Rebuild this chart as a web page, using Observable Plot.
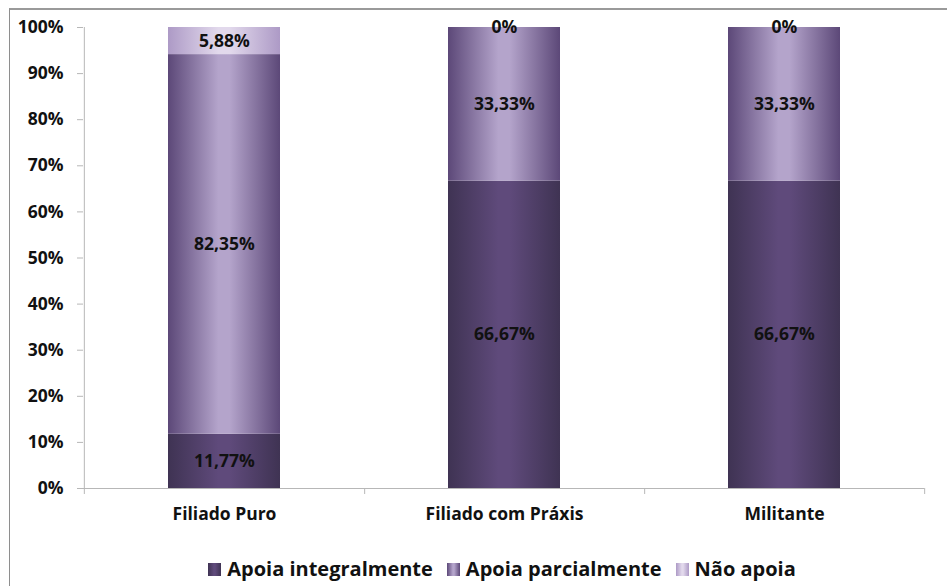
<!DOCTYPE html>
<html>
<head>
<meta charset="utf-8">
<script src="https://cdn.jsdelivr.net/npm/d3@7"></script>
<script src="https://cdn.jsdelivr.net/npm/@observablehq/plot@0.6"></script>
<style>
  html, body { margin: 0; padding: 0; background: #fff; }
  body { width: 947px; height: 586px; overflow: hidden; position: relative; font-family: "Open Sans", Lato, sans-serif; }
  #frame { position: absolute; left: 9px; top: 8px; width: 1000px; height: 1000px; border-left: 1px solid #8e8e8e; border-top: 2px solid #9a9a9a; box-sizing: border-box; }
  #chart { position: absolute; left: 0; top: 0; }
  #legend { position: absolute; left: 0; top: 555px; width: 1004px; text-align: center; font-weight: 700; font-size: 20px; color: #111; white-space: nowrap; }
  #legend span.item { margin: 0 7px; }
  #legend span.sw { display: inline-block; width: 13px; height: 13px; margin-right: 6px; vertical-align: 0px; }
</style>
</head>
<body>
<div id="frame"></div>
<div id="chart"></div>
<div id="legend"></div>
<script>
// ---- data ----
const categories = ["Filiado Puro", "Filiado com Práxis", "Militante"];
const series = ["Apoia integralmente", "Apoia parcialmente", "Não apoia"];
const apoiaIntegralmente = [11.77, 66.67, 66.67];
const apoiaParcialmente = [82.35, 33.33, 33.33];
const naoApoia = [5.88, 0, 0];
const yTicks = [0, 10, 20, 30, 40, 50, 60, 70, 80, 90, 100];

// gradient styles per series (edge, center)
const gradients = [
  {id: "g0", edge: "#3f3353", mid: "#5f4a7b"},
  {id: "g1", edge: "#5c4878", mid: "#b4a4cb"},
  {id: "g2", edge: "#ad9ac6", mid: "#e2d9ec"}
];

const seriesValues = [apoiaIntegralmente, apoiaParcialmente, naoApoia];
const data = [];
series.forEach((s, si) => {
  categories.forEach((c, ci) => {
    data.push({category: c, series: s, value: seriesValues[si][ci]});
  });
});

const fmt = v => v === 0 ? "0%" : v.toFixed(2).replace(".", ",") + "%";

const W = 947, H = 530;
const font = "'Open Sans', Lato, sans-serif";
const step = (W - 83 - 23) / 3;
const fs = 17.5;

const plot = Plot.plot({
  width: W,
  height: H,
  marginLeft: 83,
  marginRight: 23,
  marginTop: 27,
  marginBottom: 42,
  style: {fontFamily: font, fontSize: fs + "px", fontWeight: 700, color: "#111", background: "transparent"},
  x: {domain: categories, paddingInner: 0.6, paddingOuter: 0.3, label: null},
  y: {domain: [0, 100], label: null},
  color: {domain: series, range: gradients.map(g => `url(#${g.id})`)},
  marks: [
    Plot.barY(data, Plot.stackY({x: "category", y: "value", fill: "series", order: series})),
    Plot.text(data, Plot.stackY({x: "category", y: "value", z: "series", order: series, text: d => fmt(d.value), fill: "#111", fontSize: fs, fontWeight: 700})),
    // y axis line
    Plot.ruleX([0], {x: () => categories[0], dx: -step / 2, y1: -1.3, y2: 100, stroke: "#b7b7b7", strokeWidth: 1}),
    // x axis line
    Plot.ruleY([0], {stroke: "#b7b7b7", strokeWidth: 1, insetLeft: -6}),
    // category boundary ticks
    Plot.ruleX(categories, {x: d => d, dx: step / 2, y1: -1.3, y2: 0, stroke: "#b7b7b7", strokeWidth: 1}),
    Plot.axisY({ticks: yTicks, tickFormat: d => d + "%", tickSize: 6, tickPadding: 14, stroke: "#b7b7b7", fontSize: fs, fontWeight: 700}),
    Plot.axisX({tickSize: 0, tickPadding: 19, fontSize: fs, fontWeight: 700})
  ]
});

// gradients defs
const ns = "http://www.w3.org/2000/svg";
const defs = document.createElementNS(ns, "defs");
gradients.forEach(g => {
  const lg = document.createElementNS(ns, "linearGradient");
  lg.setAttribute("id", g.id);
  lg.setAttribute("x1", "0"); lg.setAttribute("x2", "1");
  lg.setAttribute("y1", "0"); lg.setAttribute("y2", "0");
  [[0, g.edge], [0.45, g.mid], [0.55, g.mid], [1, g.edge]].forEach(([o, c]) => {
    const st = document.createElementNS(ns, "stop");
    st.setAttribute("offset", o);
    st.setAttribute("stop-color", c);
    lg.appendChild(st);
  });
  defs.appendChild(lg);
});
plot.insertBefore(defs, plot.firstChild);
document.getElementById("chart").appendChild(plot);

// legend
const legend = document.getElementById("legend");
const lsvgGrad = gradients.map(g => `linear-gradient(to right, ${g.edge}, ${g.mid} 45%, ${g.mid} 55%, ${g.edge})`);
series.forEach((s, i) => {
  const item = document.createElement("span");
  item.className = "item";
  const sw = document.createElement("span");
  sw.className = "sw";
  sw.style.background = lsvgGrad[i];
  item.appendChild(sw);
  item.appendChild(document.createTextNode(s));
  legend.appendChild(item);
});
</script>
</body>
</html>
